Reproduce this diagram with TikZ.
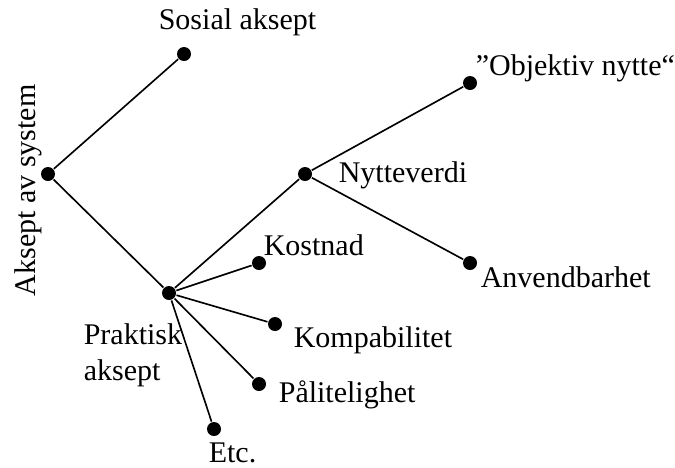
\documentclass[tikz,border=0pt]{standalone}
\usepackage{fontspec}
\setmainfont{Liberation Serif}

\begin{document}
\begin{tikzpicture}[x=0.03cm, y=-0.03cm, line width=1.4pt,
	dot/.style = {circle, fill, inner sep=0pt, minimum size=0.42cm},
	txt/.style = {inner sep=0pt, anchor=base west, font=\fontsize{25.6}{30}\selectfont}]

		\useasboundingbox (0,0) rectangle (675,467);

		% dots
		\node[dot] (root) at (48,174) {};
		\node[dot] (sos) at (184,54) {};
		\node[dot] (prak) at (169,293) {};
		\node[dot] (nytte) at (305,174) {};
		\node[dot] (obj) at (470,83) {};
		\node[dot] (anv) at (470,263) {};
		\node[dot] (kost) at (259,263) {};
		\node[dot] (komp) at (275,324) {};
		\node[dot] (pal) at (259,384) {};
		\node[dot] (etc) at (214,429) {};

		% labels
		\node[txt, rotate=90] (lroot) at (35,297) {Aksept av system};
		\node[txt] (lsos) at (158,29) {Sosial aksept};
		\node[txt, align=left] (lprak) at (83,380) {Praktisk\\aksept};
		\node[txt] (lnytte) at (338,182) {Nytteverdi};
		\node[txt] (lobj) at (475,75) {”Objektiv nytte“};
		\node[txt] (lanv) at (480,287) {Anvendbarhet};
		\node[txt] (lkost) at (263,255) {Kostnad};
		\node[txt] (lkomp) at (293,347) {Kompabilitet};
		\node[txt] (lpal) at (278,402) {Pålitelighet};
		\node[txt] (letc) at (208,462) {Etc.};

		\draw (root) to (sos);
		\draw (root) to (prak);
		\draw (prak) to (nytte);
		\draw (nytte) to (obj);
		\draw (nytte) to (anv);
		\draw (prak) to (kost);
		\draw (prak) to (komp);
		\draw (prak) to (pal);
		\draw (prak) to (etc);
	\end{tikzpicture}
\end{document}
